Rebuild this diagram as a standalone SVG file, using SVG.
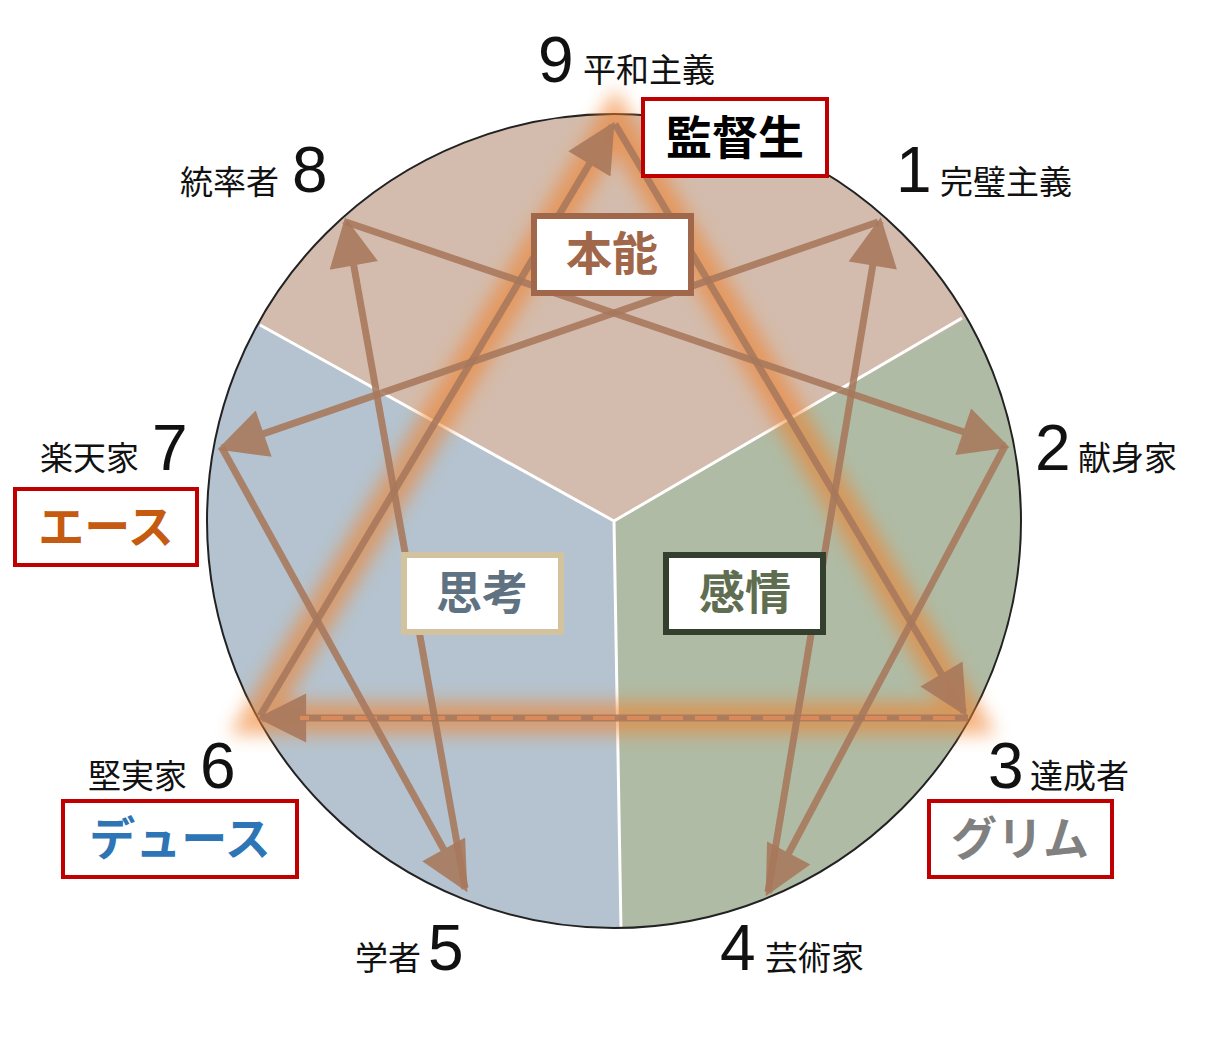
<svg xmlns="http://www.w3.org/2000/svg" width="1206" height="1041" viewBox="0 0 1206 1041">
<style>
.n{font-family:"Liberation Sans","Noto Sans CJK JP",sans-serif;font-size:64px;fill:#111}
.t{font-family:"Noto Sans CJK JP",sans-serif;font-size:33px;fill:#111}
.b{font-family:"Noto Sans CJK JP",sans-serif;font-size:46px;font-weight:bold;text-anchor:middle}
.a{stroke:#a8785c;stroke-width:7;fill:none;opacity:.88}
</style>
<defs>
<marker id="h" viewBox="0 0 10 10" refX="9" refY="5" markerWidth="8" markerHeight="7" orient="auto" markerUnits="strokeWidth"><path d="M0,0L10,5L0,10z" fill="#a8785c"/></marker>
<filter id="g" x="-20%" y="-20%" width="140%" height="140%"><feGaussianBlur stdDeviation="9"/></filter>
<clipPath id="c"><circle cx="614" cy="521" r="407"/></clipPath>
</defs>
<g id="sectors" clip-path="url(#c)">
<rect x="0" y="0" width="1206" height="1041" fill="#d3bcad"/>
<path d="M614,521L170,275L100,950L620,960z" fill="#b4c3cf"/>
<path d="M614,521L1050,270L1100,950L620,960z" fill="#afbba5"/>
<path d="M614,521L260,325M614,521L962,318M614,521L621,930" stroke="#fff" stroke-width="3"/>
</g>
<circle cx="614" cy="521" r="407" fill="none" stroke="#222" stroke-width="2"/>
<g id="glow"><path d="M615,120L968,718L258,718z" fill="none" stroke="#f0802c" stroke-width="32" opacity=".6" filter="url(#g)"/></g>
<g id="connectors">
<line class="a" x1="968" y1="718" x2="262" y2="718" marker-end="url(#h)"/>
<line x1="955" y1="718" x2="300" y2="718" stroke="#d9895a" stroke-width="4" stroke-dasharray="22,12"/>
<line class="a" x1="615" y1="124" x2="964" y2="712" marker-end="url(#h)"/>
<line class="a" x1="260" y1="716" x2="612" y2="126" marker-end="url(#h)"/>
<line class="a" x1="878" y1="222" x2="222" y2="448" marker-end="url(#h)"/>
<line class="a" x1="222" y1="448" x2="465" y2="888" marker-end="url(#h)"/>
<line class="a" x1="465" y1="888" x2="346" y2="222" marker-end="url(#h)"/>
<line class="a" x1="346" y1="222" x2="1005" y2="446" marker-end="url(#h)"/>
<line class="a" x1="1005" y1="446" x2="768" y2="892" marker-end="url(#h)"/>
<line class="a" x1="768" y1="892" x2="880" y2="222" marker-end="url(#h)"/>
</g>
<g id="n9"><text class="n" x="538" y="82">9</text><text class="t" x="583" y="82">平和主義</text></g>
<g id="n1"><text class="n" x="896" y="192">1</text><text class="t" x="940" y="194">完璧主義</text></g>
<g id="n2"><text class="n" x="1035" y="470">2</text><text class="t" x="1078" y="470">献身家</text></g>
<g id="n3"><text class="n" x="988" y="788">3</text><text class="t" x="1030" y="788">達成者</text></g>
<g id="n4"><text class="n" x="720" y="970">4</text><text class="t" x="765" y="970">芸術家</text></g>
<g id="n5"><text class="t" x="355" y="970">学者</text><text class="n" x="428" y="970">5</text></g>
<g id="n6"><text class="t" x="88" y="788">堅実家</text><text class="n" x="200" y="788">6</text></g>
<g id="n7"><text class="t" x="40" y="470">楽天家</text><text class="n" x="152" y="470">7</text></g>
<g id="n8"><text class="t" x="180" y="194">統率者</text><text class="n" x="292" y="192">8</text></g>
<g id="kantoku"><rect x="643" y="99" width="184" height="77" fill="#fff" stroke="#c00000" stroke-width="4"/><text class="b" x="735" y="154" fill="#000">監督生</text></g>
<g id="honno"><rect x="534" y="216" width="157" height="77" fill="#fff" stroke="#a0674a" stroke-width="6"/><text class="b" x="612" y="270" fill="#a0674a">本能</text></g>
<g id="shiko"><rect x="404" y="555" width="157" height="77" fill="#fff" stroke="#d3c29e" stroke-width="6"/><text class="b" x="482" y="609" fill="#5f7282">思考</text></g>
<g id="kanjo"><rect x="666" y="555" width="157" height="77" fill="#fff" stroke="#34402e" stroke-width="6"/><text class="b" x="745" y="609" fill="#5f6e50">感情</text></g>
<g id="ace"><rect x="15" y="489" width="182" height="76" fill="#fff" stroke="#c00000" stroke-width="4"/><text class="b" x="106" y="543" fill="#c55a11">エース</text></g>
<g id="deuce"><rect x="63" y="801" width="234" height="76" fill="#fff" stroke="#c00000" stroke-width="4"/><text class="b" x="180" y="855" fill="#2e75b6">デュース</text></g>
<g id="grim"><rect x="929" y="801" width="183" height="76" fill="#fff" stroke="#c00000" stroke-width="4"/><text class="b" x="1020" y="855" fill="#808080">グリム</text></g>
</svg>
